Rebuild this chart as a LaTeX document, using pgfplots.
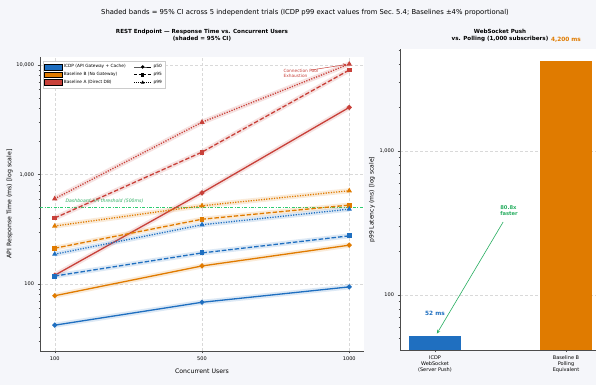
\documentclass[border=0pt]{standalone}
\usepackage{pgfplots}
\pgfplotsset{compat=1.18}
\usepackage{fontspec}
\setmainfont{DejaVu Sans}
\definecolor{icdp}{HTML}{1F6FC0}
\definecolor{bb}{HTML}{E07B00}
\definecolor{ba}{HTML}{C8413A}
\definecolor{thr}{HTML}{2ECC71}
\definecolor{arr}{HTML}{27AE60}
\definecolor{bgc}{HTML}{F5F6FA}
\newcommand\ser[4]{%
 \addplot[#1, line width=5pt, opacity=0.15, forget plot] coordinates {#4};
 \addplot[#1, line width=1.3pt, #2, mark=#3, mark size=1.8pt, mark options={solid}, forget plot] coordinates {#4};
}
\begin{document}
\begin{tikzpicture}[x=1pt,y=1pt]
\fill[bgc] (0,0) rectangle (596,385);
\path[use as bounding box] (0,0) rectangle (596,385);
\node[font=\fontsize{6.8}{8}\selectfont] at (305,372) {Shaded bands = 95\% CI across 5 independent trials (ICDP p99 exact values from Sec.\ 5.4; Baselines ±4\% proportional)};
\node[font=\bfseries\fontsize{5.6}{7}\selectfont, align=center] at (202,350) {REST Endpoint — Response Time vs. Concurrent Users\\(shaded = 95\% CI)};
\node[font=\bfseries\fontsize{5.6}{7}\selectfont, align=center] at (500,350) {WebSocket Push\\vs. Polling (1,000 subscribers)};

\begin{axis}[at={(40pt,34pt)}, anchor=south west, width=324pt, height=294pt, scale only axis,
  ymode=log, xmin=-0.1, xmax=2.1, ymin=24.4, ymax=11830,
  axis background/.style={fill=white},
  axis x line*=bottom, axis y line*=left, axis line style={-, gray!60!black, line width=0.5pt},
  xtick={0,1,2}, xticklabels={100,500,1000},
  ytick={100,1000,10000}, yticklabels={100,{1,000},{10,000}},
  minor ytick={30,40,50,60,70,80,90,200,300,400,500,600,700,800,900,2000,3000,4000,5000,6000,7000,8000,9000},
  tick align=outside, major tick length=2.5pt, minor tick length=1.5pt,
  every tick/.style={gray!60!black, line width=0.4pt},
  tick label style={font=\fontsize{5}{6}\selectfont},
  /pgf/number format/assume math mode=true,
  grid=major, major grid style={densely dashed, gray!30, line width=0.4pt},
  xlabel={Concurrent Users}, ylabel={API Response Time (ms) [log scale]},
  label style={font=\fontsize{6.2}{7}\selectfont},
  xlabel style={yshift=-1pt}, ylabel style={yshift=-3pt},
  clip=false,
  legend columns=2, legend cell align=left,
  legend style={at={(0.01,0.985)}, anchor=north west, font=\fontsize{4.3}{5}\selectfont, draw=gray!40, fill=white, inner sep=1pt, row sep=-1pt, /tikz/every even column/.append style={column sep=6pt}},
]
\addplot[thr, dash pattern=on 3pt off 1.5pt on 0.8pt off 1.5pt, line width=0.7pt, forget plot] coordinates {(-0.1,500) (2.1,500)};
\node[anchor=west, text=arr, font=\itshape\fontsize{4.6}{5}\selectfont] at (axis cs:0.05,570) {Dashboard API threshold (500ms)};

\ser{ba}{dash pattern=on 1.2pt off 1.4pt}{triangle*}{(0,600)(1,3000)(2,10200)}
\ser{ba}{dash pattern=on 4.5pt off 2pt}{square*}{(0,400)(1,1600)(2,9000)}
\ser{ba}{solid}{*}{(0,120)(1,680)(2,4100)}
\ser{bb}{dash pattern=on 1.2pt off 1.4pt}{triangle*}{(0,338)(1,518)(2,710)}
\ser{bb}{dash pattern=on 4.5pt off 2pt}{square*}{(0,212)(1,390)(2,525)}
\ser{bb}{solid}{*}{(0,78)(1,146)(2,226)}
\ser{icdp}{dash pattern=on 1.2pt off 1.4pt}{triangle*}{(0,187)(1,347)(2,482)}
\ser{icdp}{dash pattern=on 4.5pt off 2pt}{square*}{(0,118)(1,192)(2,275)}
\ser{icdp}{solid}{*}{(0,42)(1,68)(2,94)}

\node[anchor=west, text=ba, align=left, font=\fontsize{4.3}{5}\selectfont] at (axis cs:1.53,8400) {Connection Pool\\Exhaustion};
\draw[->, >=stealth, ba, line width=0.5pt] (axis cs:1.74,9000) -- (axis cs:1.98,10100);

\addlegendimage{area legend, fill=icdp, draw=none}\addlegendentry{ICDP (API Gateway + Cache)}
\addlegendimage{black, solid, mark=*, mark size=1.2pt, line width=0.9pt}\addlegendentry{p50}
\addlegendimage{area legend, fill=bb, draw=none}\addlegendentry{Baseline B (No Gateway)}
\addlegendimage{black, dash pattern=on 3pt off 1.5pt, mark=square*, mark size=1.2pt, mark options={solid}, line width=0.9pt}\addlegendentry{p95}
\addlegendimage{area legend, fill=ba, draw=none}\addlegendentry{Baseline A (Direct DB)}
\addlegendimage{black, dash pattern=on 1pt off 1pt, mark=triangle*, mark size=1.2pt, mark options={solid}, line width=0.9pt}\addlegendentry{p99}
\end{axis}

\begin{axis}[at={(400pt,35pt)}, anchor=south west, width=196pt, height=300.7pt, scale only axis,
  ymode=log, ymin=41.5, ymax=5080, xmin=-0.267, xmax=1.229, log origin y=infty,
  axis background/.style={fill=white},
  axis x line*=bottom, axis y line*=left, axis line style={-, gray!60!black, line width=0.5pt},
  xtick={0,1}, xticklabels={{ICDP\\WebSocket\\(Server Push)},{Baseline B\\Polling\\Equivalent}},
  xticklabel style={align=center, font=\fontsize{5}{6}\selectfont},
  ytick={100,1000}, yticklabels={100,{1,000}},
  minor ytick={50,60,70,80,90,200,300,400,500,600,700,800,900,2000,3000,4000,5000},
  tick align=outside, major tick length=2.5pt, minor tick length=1.5pt,
  every tick/.style={gray!60!black, line width=0.4pt},
  yticklabel style={font=\fontsize{5}{6}\selectfont},
  /pgf/number format/assume math mode=true,
  ymajorgrids, major grid style={densely dashed, gray!30, line width=0.4pt},
  ylabel={p99 Latency (ms) [log scale]},
  label style={font=\fontsize{6}{7}\selectfont}, ylabel style={yshift=-2pt},
  clip=false,
]
\addplot[ybar, bar width=52pt, bar shift=0pt, fill=icdp, draw=none] coordinates {(0,52)};
\addplot[ybar, bar width=52pt, bar shift=0pt, fill=bb, draw=none] coordinates {(1,4200)};
\node[text=icdp, font=\bfseries\fontsize{5.8}{6}\selectfont] at (axis cs:0,74) {52 ms};
\node[text=bb, font=\bfseries\fontsize{5.8}{6}\selectfont] at (axis cs:1,5900) {4,200 ms};
\draw[->, >=stealth, arr, line width=0.6pt] (axis cs:0.52,321) -- (axis cs:0.015,54);
\node[text=arr, align=left, font=\bfseries\fontsize{5.2}{6}\selectfont] at (axis cs:0.565,383) {80.8x\\faster};
\end{axis}
\end{tikzpicture}
\end{document}
